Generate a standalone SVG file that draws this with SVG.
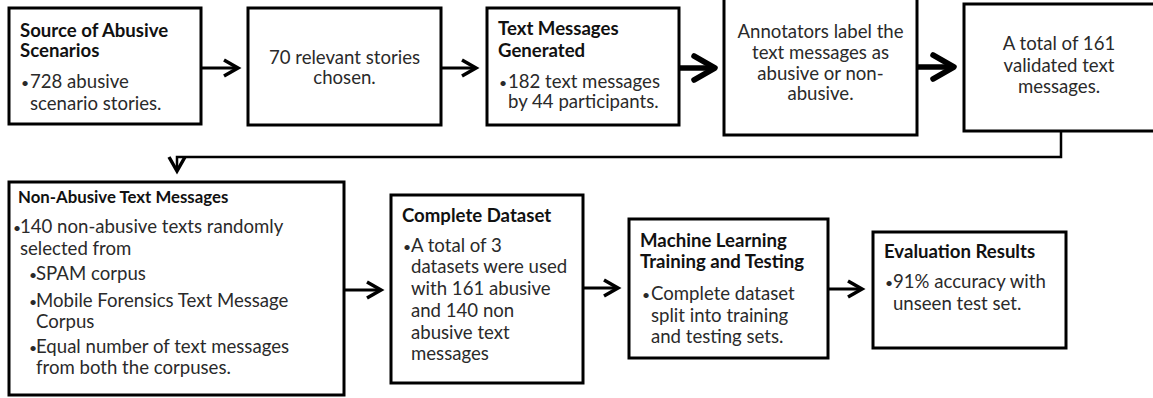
<svg xmlns="http://www.w3.org/2000/svg" width="1153" height="398" viewBox="0 0 1153 398">
  <style>
    .box { fill: #fff; stroke: #000; stroke-width: 3; }
    .t { font-family: Lato, "Open Sans", "Liberation Sans", sans-serif; font-size: 18.6px; fill: #2a2a2a; }
    .h { font-family: Lato, "Open Sans", "Liberation Sans", sans-serif; font-size: 18.6px; font-weight: bold; fill: #111; }
    .hs { font-size: 16.8px; }
    .b { font-size: 14px; }
    .c { text-anchor: middle; }
    .thin { fill: none; stroke: #000; stroke-width: 3; }
    .link { fill: none; stroke: #000; stroke-width: 2.5; }
    .thick { fill: none; stroke: #000; stroke-width: 5.5; }
  </style>
  <defs>
    <!-- open chevron heads, sized in user units -->
    <marker id="head" viewBox="-20 -12 24 24" refX="0" refY="0" markerWidth="24" markerHeight="24" markerUnits="userSpaceOnUse" orient="auto" overflow="visible">
      <path d="M-14,-8 L0,0 L-14,8" fill="none" stroke="#000" stroke-width="3.5" stroke-linejoin="miter"/>
    </marker>
    <marker id="headBig" viewBox="-26 -16 30 32" refX="0" refY="0" markerWidth="30" markerHeight="32" markerUnits="userSpaceOnUse" orient="auto" overflow="visible">
      <path d="M-21,-12 L0,0 L-21,12" fill="none" stroke="#000" stroke-width="5.5" stroke-linejoin="round" stroke-linecap="round"/>
    </marker>
  </defs>

  <g id="connectors">
    <path class="thin" d="M202,68 H238" marker-end="url(#head)"/>
    <path class="thin" d="M441,68 H476" marker-end="url(#head)"/>
    <path class="thick" d="M680,68 H715" marker-end="url(#headBig)"/>
    <path class="thick" d="M918,67 H954" marker-end="url(#headBig)"/>
    <path class="link" d="M1061,131 V157 H177 V171" marker-end="url(#head)"/>
    <path class="thin" d="M345,290 H381" marker-end="url(#head)"/>
    <path class="thin" d="M584,288 H618" marker-end="url(#head)"/>
    <path class="thin" d="M829,289 H862" marker-end="url(#head)"/>
  </g>

  <g id="source">
    <rect class="box" x="9" y="8" width="192" height="116"/>
    <text class="h" x="20" y="37">Source of Abusive</text>
    <text class="h" x="20" y="57">Scenarios</text>
    <text class="t" x="21" y="88"><tspan class="b">•</tspan><tspan x="30">728 abusive</tspan></text>
    <text class="t" x="30" y="110">scenario stories.</text>
  </g>

  <g id="stories">
    <rect class="box" x="248" y="8" width="193" height="117"/>
    <text class="t c" x="344.5" y="64">70 relevant stories</text>
    <text class="t c" x="344.5" y="84">chosen.</text>
  </g>

  <g id="generated">
    <rect class="box" x="487" y="8" width="192" height="117"/>
    <text class="h" x="498" y="35">Text Messages</text>
    <text class="h" x="498" y="57">Generated</text>
    <text class="t" x="499" y="88"><tspan class="b">•</tspan><tspan x="508">182 text messages</tspan></text>
    <text class="t" x="508" y="108">by 44 participants.</text>
  </g>

  <g id="annotators">
    <rect class="box" x="724" y="-3" width="193" height="138"/>
    <text class="t c" x="820.5" y="38">Annotators label the</text>
    <text class="t c" x="820.5" y="59">text messages as</text>
    <text class="t c" x="820.5" y="80">abusive or non-</text>
    <text class="t c" x="820.5" y="100">abusive.</text>
  </g>

  <g id="validated">
    <rect class="box" x="964" y="4" width="200" height="127"/>
    <text class="t c" x="1059" y="50">A total of 161</text>
    <text class="t c" x="1059" y="72">validated text</text>
    <text class="t c" x="1059" y="93">messages.</text>
  </g>

  <g id="non-abusive">
    <rect class="box" x="9" y="182" width="335" height="213"/>
    <text class="h hs" x="18" y="203">Non-Abusive Text Messages</text>
    <text class="t" x="13" y="233"><tspan class="b">•</tspan><tspan x="20">140 non-abusive texts randomly</tspan></text>
    <text class="t" x="20" y="255">selected from</text>
    <text class="t" x="29" y="280"><tspan class="b">•</tspan><tspan x="36">SPAM corpus</tspan></text>
    <text class="t" x="29" y="307"><tspan class="b">•</tspan><tspan x="36">Mobile Forensics Text Message</tspan></text>
    <text class="t" x="36" y="328">Corpus</text>
    <text class="t" x="29" y="353"><tspan class="b">•</tspan><tspan x="36">Equal number of text messages</tspan></text>
    <text class="t" x="36" y="374">from both the corpuses.</text>
  </g>

  <g id="dataset">
    <rect class="box" x="391" y="195" width="192" height="188"/>
    <text class="h" x="402" y="222">Complete Dataset</text>
    <text class="t" x="403" y="252"><tspan class="b">•</tspan><tspan x="411">A total of 3</tspan></text>
    <text class="t" x="411" y="273">datasets were used</text>
    <text class="t" x="411" y="295">with 161 abusive</text>
    <text class="t" x="411" y="317">and 140 non</text>
    <text class="t" x="411" y="339">abusive text</text>
    <text class="t" x="411" y="360">messages</text>
  </g>

  <g id="training">
    <rect class="box" x="629" y="219" width="199" height="139"/>
    <text class="h" x="640" y="247">Machine Learning</text>
    <text class="h" x="640" y="268">Training and Testing</text>
    <text class="t" x="642" y="300"><tspan class="b">•</tspan><tspan x="651">Complete dataset</tspan></text>
    <text class="t" x="651" y="322">split into training</text>
    <text class="t" x="651" y="343">and testing sets.</text>
  </g>

  <g id="evaluation">
    <rect class="box" x="873" y="232" width="193" height="116"/>
    <text class="h" x="884" y="258">Evaluation Results</text>
    <text class="t" x="885" y="288"><tspan class="b">•</tspan><tspan x="893">91% accuracy with</tspan></text>
    <text class="t" x="893" y="310">unseen test set.</text>
  </g>
</svg>
